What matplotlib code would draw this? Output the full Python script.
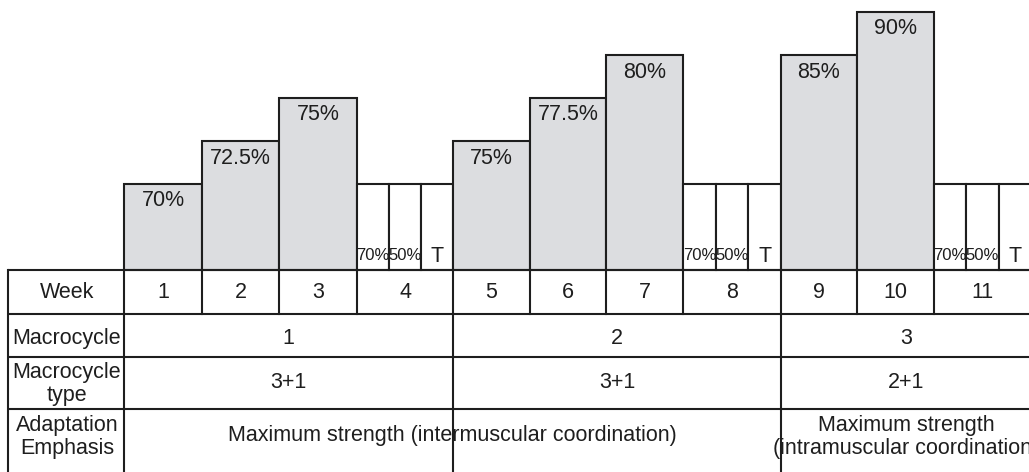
import numpy as np
import matplotlib.pyplot as plt
from matplotlib import font_manager

# DATOS
weeks = ['1', '2', '3', '4', '5', '6', '7', '8', '9', '10', '11']
intensity = ['70%', '72.5%', '75%', None, '75%', '77.5%', '80%', None, '85%', '90%', None]
levels = [2, 3, 4, 2, 3, 4, 5, 2, 5, 6, 2]   # altura esquematica de cada bloque
deload = [False, False, False, True, False, False, False, True, False, False, True]
deload_labels = ['70%', '50%', 'T']
macro_names = ['1', '2', '3']
macro_types = ['3+1', '3+1', '2+1']
macro_weeks = [4, 4, 3]
emphasis = ['Maximum strength (intermuscular coordination)',
            'Maximum strength\n(intramuscular coordination)']
emphasis_weeks = [8, 3]
row_names = ['Week', 'Macrocycle', 'Macrocycle\ntype', 'Adaptation\nEmphasis']

# GEOMETRIA (pixeles)
widths = np.array([78, 77, 78, 96, 77, 76, 77, 98, 76, 77, 97])
X_LEFT, X_LABEL = 8, 124
BASE = 270
STEP = 43
rows_y = [270, 314, 357, 409, 472]

edges = X_LABEL + np.concatenate([[0], np.cumsum(widths)])
lefts = edges[:-1]

ink = '#1e1e1e'
gray = '#dcdde0'
lw = 1.5
font = 'Liberation Sans'
fs = 15.5

# fuente estrecha para las celdas de descarga
installed = {f.name for f in font_manager.fontManager.ttflist}
if 'Liberation Sans Narrow' in installed:
    narrow_font, narrow_size = 'Liberation Sans Narrow', 14
else:
    narrow_font, narrow_size = font, 12

fig = plt.figure(figsize=(10.29, 4.72), dpi=100)
ax = fig.add_axes([0, 0, 1, 1])
ax.set_xlim(0, 1029)
ax.set_ylim(472, 0)
ax.axis('off')

# Bloques de intensidad
for i in range(len(weeks)):
    h = levels[i] * STEP
    if not deload[i]:
        ax.bar(lefts[i], -h, width=widths[i], bottom=BASE, align='edge',
               color=gray, edgecolor=ink, linewidth=lw)
        ax.text(lefts[i] + widths[i] / 2, BASE - h + 17, intensity[i],
                ha='center', va='center', fontsize=fs, color=ink, family=font)
    else:
        sub = widths[i] / 3
        for k, lab in enumerate(deload_labels):
            x0 = lefts[i] + k * sub
            ax.bar(x0, -h, width=sub, bottom=BASE, align='edge',
                   color='white', edgecolor=ink, linewidth=lw)
            size = fs if lab == 'T' else narrow_size
            ax.text(x0 + sub / 2, BASE - 14, lab, ha='center', va='center',
                    fontsize=size, color=ink, family=narrow_font)

# Tabla
for y in rows_y[:-1]:
    ax.plot([X_LEFT, 1035], [y, y], color=ink, lw=lw, solid_capstyle='butt')
for x in [X_LEFT, X_LABEL]:
    ax.plot([x, x], [rows_y[0], rows_y[-1]], color=ink, lw=lw)
for x in edges[1:]:
    ax.plot([x, x], [rows_y[0], rows_y[1]], color=ink, lw=lw)
macro_edges = edges[np.cumsum(macro_weeks)]
for x in macro_edges:
    ax.plot([x, x], [rows_y[1], rows_y[-1]], color=ink, lw=lw)

def row_mid(r):
    return (rows_y[r] + rows_y[r + 1]) / 2

# Etiquetas de filas
label_y = [row_mid(0) + 1, row_mid(1) + 3, row_mid(2) + 1, 437]
for name, y in zip(row_names, label_y):
    ax.text((X_LEFT + X_LABEL) / 2 + 1, y, name, ha='center', va='center',
            fontsize=fs, color=ink, family=font, linespacing=1.15)

# Semanas
for i, w in enumerate(weeks):
    ax.text(lefts[i] + widths[i] / 2, row_mid(0) + 1, w, ha='center', va='center',
            fontsize=fs, color=ink, family=font)

# Macrociclos
start = 0
for name, typ, n in zip(macro_names, macro_types, macro_weeks):
    xc = (edges[start] + edges[start + n]) / 2
    ax.text(xc, row_mid(1) + 3, name, ha='center', va='center',
            fontsize=fs, color=ink, family=font)
    ax.text(xc, row_mid(2), typ, ha='center', va='center',
            fontsize=fs, color=ink, family=font)
    start += n

# Enfasis
start = 0
for txt, n in zip(emphasis, emphasis_weeks):
    xc = (edges[start] + edges[start + n]) / 2
    yc = 435 if '\n' not in txt else 437
    ax.text(xc, yc, txt, ha='center', va='center', fontsize=fs, color=ink,
            family=font, linespacing=1.15)
    start += n

plt.savefig('out.png', dpi=100)
